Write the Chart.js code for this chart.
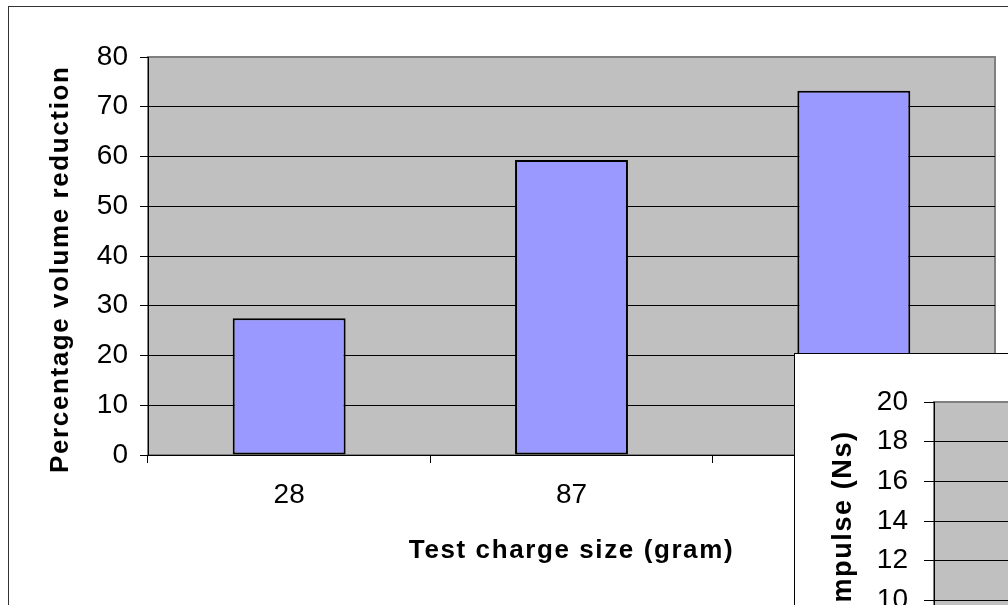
<!DOCTYPE html>
<html>
<head>
<meta charset="utf-8">
<script src="https://cdn.jsdelivr.net/npm/chart.js@4.4.1/dist/chart.umd.min.js"></script>
<style>
  html, body { margin: 0; padding: 0; background: #fff; overflow: hidden; width: 1008px; height: 605px; }
  #marco { position: absolute; left: 8px; top: 6px; width: 1040px; height: 700px; border: 1px solid #333; background: #fff; }
  #grafico { position: absolute; left: 0; top: 0; }
  #recuadro { position: absolute; left: 794px; top: 353px; width: 700px; height: 500px; border-left: 1px solid #000; border-top: 1px solid #000; background: #fff; }
  #graficoImpulso { position: absolute; left: 0; top: 0; }
</style>
</head>
<body>
<div id="marco"><canvas id="grafico" width="1030" height="640"></canvas></div>
<div id="recuadro"><canvas id="graficoImpulso" width="600" height="400"></canvas></div>
<script>
// datos del grafico principal
const categorias = ["28", "87", "175"];
const reduccionVolumen = [27.5, 59.3, 73.2];
const ejeY = { min: 0, max: 80, paso: 10 };

// grafico pequeño (solo se ve la esquina con el eje)
const categoriasImpulso = ["28", "87", "175"];
const ejeImpulso = { min: 8, max: 20, paso: 2 };

const fuente = "'Liberation Sans', Arial, sans-serif";

// Fondo gris del area de trazado + espaciado de letras para los titulos
const fondoPlot = {
  id: "fondoPlot",
  beforeDraw(chart) {
    const { ctx, chartArea: a } = chart;
    ctx.save();
    ctx.fillStyle = "#C0C0C0";
    ctx.fillRect(a.left, a.top, a.right - a.left, a.bottom - a.top);
    ctx.strokeStyle = "#808080";
    ctx.lineWidth = 2;
    ctx.strokeRect(a.left, a.top, a.right - a.left, a.bottom - a.top);
    ctx.restore();
    ctx.letterSpacing = "1.6px";
  },
  beforeDatasetsDraw(chart) {
    chart.ctx.letterSpacing = "0px";
  }
};

function colorGrid(max) {
  return (c) => (c.tick && c.tick.value === max ? "rgba(0,0,0,0)" : "#000");
}

// Grafico principal
new Chart(document.getElementById("grafico"), {
  type: "bar",
  data: {
    labels: categorias,
    datasets: [{
      data: reduccionVolumen,
      backgroundColor: "#9999FF",
      borderColor: "#000",
      borderWidth: 2,
      borderSkipped: false,
      barPercentage: 0.4,
      categoryPercentage: 1
    }]
  },
  options: {
    responsive: false,
    animation: false,
    events: [],
    devicePixelRatio: 1,
    layout: { padding: { top: 50, right: 44, left: 0, bottom: 81 } },
    plugins: { legend: { display: false }, tooltip: { enabled: false } },
    scales: {
      x: {
        ticks: { font: { family: fuente, size: 28 }, color: "#000", padding: 15, z: 1 },
        grid: { offset: true, drawOnChartArea: false, drawTicks: true, tickLength: 8, color: "#000" },
        border: { color: "#000", width: 1 },
        title: { display: true, text: "Test charge size (gram)", color: "#000", font: { family: fuente, size: 26, weight: "bold" }, padding: { top: 0, bottom: 0 } },
        afterFit: (s) => { s.height = 111; }
      },
      y: {
        min: ejeY.min,
        max: ejeY.max,
        ticks: { stepSize: ejeY.paso, font: { family: fuente, size: 28 }, color: "#000", padding: 12, z: 1 },
        grid: { color: colorGrid(ejeY.max), tickColor: "#000", tickLength: 8, lineWidth: 1 },
        border: { color: "#000", width: 1 },
        title: { display: true, text: "Percentage volume reduction   ", color: "#000", font: { family: fuente, size: 26, weight: "bold" }, padding: { top: 36, bottom: 0 } },
        afterFit: (s) => { s.width = 139; }
      }
    }
  },
  plugins: [fondoPlot]
});

// Grafico de impulso (tapado en parte, solo la esquina superior izquierda)
new Chart(document.getElementById("graficoImpulso"), {
  type: "bar",
  data: {
    labels: categoriasImpulso,
    datasets: [{ data: [], backgroundColor: "#9999FF", borderColor: "#000", borderWidth: 2 }]
  },
  options: {
    responsive: false,
    animation: false,
    events: [],
    devicePixelRatio: 1,
    layout: { padding: { top: 48, right: 20, left: 0, bottom: 0 } },
    plugins: { legend: { display: false }, tooltip: { enabled: false } },
    scales: {
      x: {
        ticks: { font: { family: fuente, size: 28 }, color: "#000", padding: 15, z: 1 },
        grid: { offset: true, drawOnChartArea: false, tickLength: 8, color: "#000" },
        border: { color: "#000", width: 1 },
        afterFit: (s) => { s.height = 114; }
      },
      y: {
        min: ejeImpulso.min,
        max: ejeImpulso.max,
        ticks: { stepSize: ejeImpulso.paso, font: { family: fuente, size: 28 }, color: "#000", padding: 16, z: 1 },
        grid: { color: colorGrid(ejeImpulso.max), tickColor: "#000", tickLength: 10, lineWidth: 1 },
        border: { color: "#000", width: 1 },
        title: { display: true, text: "Impulse (Ns)", color: "#000", font: { family: fuente, size: 27, weight: "bold" }, padding: { top: 32, bottom: 0 } },
        afterFit: (s) => { s.width = 139; }
      }
    }
  },
  plugins: [fondoPlot]
});
</script>
</body>
</html>
